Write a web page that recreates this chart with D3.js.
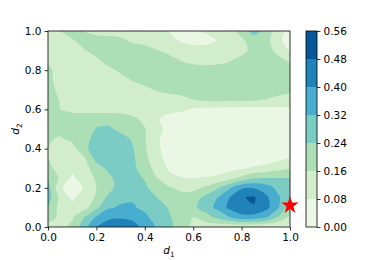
<!DOCTYPE html>
<html>
<head>
<meta charset="utf-8">
<script src="https://cdn.jsdelivr.net/npm/d3@7"></script>
<style>
	body { margin: 0; background: #fff; }
	text { font-family: "DejaVu Sans", sans-serif; }
</style>
</head>
<body>
<div id="visDiv"></div>
<script>
(function () {

	///////////////////////
	// DATA
	//
	// grid positions
	var d1Grid = [0, 0.05, 0.1, 0.15, 0.2, 0.25, 0.3, 0.35, 0.4, 0.45, 0.5, 0.55, 0.6, 0.65, 0.7, 0.75, 0.8, 0.85, 0.9, 0.95, 1.0];
	// rows listed from top (d2 = 1) to bottom (d2 = 0)
	var d2Grid = [1.0, 0.95, 0.9, 0.85, 0.8, 0.75, 0.7, 0.65, 0.6, 0.55, 0.5, 0.45, 0.4, 0.35, 0.3, 0.25, 0.2, 0.15, 0.1, 0.05, 0];

	// field values, one row per d2Grid entry
	var zRows = [
		[0.13, 0.16, 0.2, 0.16, 0.13, 0.12, 0.11, 0.11, 0.10, 0.10, 0.08, 0.072, 0.075, 0.085, 0.10, 0.12, 0.19, 0.27, 0.21, 0.10, 0.06],
		[0.12, 0.13, 0.15, 0.19, 0.2, 0.2, 0.19, 0.14, 0.12, 0.11, 0.10, 0.075, 0.065, 0.066, 0.082, 0.12, 0.145, 0.2, 0.2, 0.09, 0.06],
		[0.12, 0.12, 0.13, 0.155, 0.19, 0.21, 0.22, 0.22, 0.21, 0.165, 0.13, 0.11, 0.10, 0.10, 0.11, 0.12, 0.14, 0.18, 0.19, 0.14, 0.08],
		[0.15, 0.13, 0.12, 0.13, 0.145, 0.19, 0.22, 0.23, 0.23, 0.22, 0.2, 0.155, 0.14, 0.14, 0.145, 0.155, 0.18, 0.2, 0.2, 0.18, 0.15],
		[0.17, 0.14, 0.12, 0.12, 0.125, 0.14, 0.175, 0.21, 0.22, 0.225, 0.22, 0.21, 0.19, 0.18, 0.18, 0.185, 0.2, 0.21, 0.21, 0.2, 0.19],
		[0.18, 0.13, 0.12, 0.115, 0.115, 0.12, 0.13, 0.165, 0.2, 0.21, 0.215, 0.215, 0.215, 0.21, 0.21, 0.21, 0.21, 0.215, 0.22, 0.22, 0.22],
		[0.19, 0.14, 0.115, 0.11, 0.11, 0.11, 0.115, 0.12, 0.135, 0.17, 0.19, 0.2, 0.2, 0.2, 0.2, 0.2, 0.2, 0.2, 0.195, 0.19, 0.18],
		[0.2, 0.155, 0.12, 0.11, 0.10, 0.10, 0.10, 0.10, 0.10, 0.105, 0.115, 0.13, 0.16, 0.175, 0.18, 0.18, 0.18, 0.175, 0.16, 0.14, 0.12],
		[0.19, 0.16, 0.14, 0.135, 0.13, 0.13, 0.13, 0.12, 0.11, 0.10, 0.095, 0.09, 0.07, 0.06, 0.055, 0.05, 0.05, 0.05, 0.055, 0.06, 0.06],
		[0.2, 0.2, 0.2, 0.205, 0.21, 0.21, 0.2, 0.18, 0.14, 0.085, 0.06, 0.05, 0.045, 0.04, 0.04, 0.04, 0.04, 0.045, 0.05, 0.05, 0.05],
		[0.19, 0.19, 0.19, 0.2, 0.245, 0.255, 0.22, 0.2, 0.165, 0.10, 0.06, 0.045, 0.04, 0.035, 0.035, 0.035, 0.035, 0.04, 0.04, 0.045, 0.045],
		[0.17, 0.15, 0.18, 0.21, 0.27, 0.29, 0.27, 0.23, 0.165, 0.09, 0.05, 0.04, 0.035, 0.03, 0.03, 0.03, 0.03, 0.035, 0.035, 0.04, 0.04],
		[0.16, 0.12, 0.13, 0.22, 0.28, 0.3, 0.29, 0.245, 0.17, 0.095, 0.045, 0.035, 0.03, 0.03, 0.025, 0.025, 0.025, 0.03, 0.03, 0.035, 0.035],
		[0.155, 0.12, 0.11, 0.15, 0.27, 0.3, 0.295, 0.255, 0.18, 0.11, 0.05, 0.035, 0.03, 0.025, 0.025, 0.025, 0.03, 0.03, 0.035, 0.06, 0.075],
		[0.18, 0.13, 0.10, 0.13, 0.2, 0.26, 0.29, 0.26, 0.2, 0.13, 0.07, 0.04, 0.035, 0.035, 0.04, 0.05, 0.07, 0.09, 0.11, 0.13, 0.15],
		[0.23, 0.15, 0.065, 0.12, 0.17, 0.22, 0.28, 0.28, 0.23, 0.16, 0.10, 0.085, 0.08, 0.085, 0.10, 0.13, 0.18, 0.23, 0.24, 0.24, 0.24],
		[0.27, 0.09, 0.05, 0.085, 0.16, 0.21, 0.28, 0.3, 0.26, 0.19, 0.17, 0.14, 0.14, 0.17, 0.23, 0.31, 0.39, 0.395, 0.36, 0.3, 0.27],
		[0.28, 0.14, 0.065, 0.12, 0.17, 0.26, 0.3, 0.31, 0.3, 0.24, 0.2, 0.19, 0.2, 0.26, 0.32, 0.4, 0.475, 0.49, 0.42, 0.33, 0.27],
		[0.24, 0.13, 0.10, 0.13, 0.22, 0.31, 0.33, 0.33, 0.3, 0.27, 0.235, 0.21, 0.22, 0.28, 0.34, 0.42, 0.47, 0.475, 0.43, 0.33, 0.2],
		[0.2, 0.14, 0.15, 0.24, 0.33, 0.38, 0.39, 0.38, 0.34, 0.28, 0.25, 0.2, 0.16, 0.2, 0.26, 0.32, 0.37, 0.37, 0.33, 0.24, 0.14],
		[0.12, 0.13, 0.18, 0.28, 0.4, 0.45, 0.46, 0.43, 0.37, 0.31, 0.26, 0.2, 0.14, 0.12, 0.11, 0.10, 0.10, 0.09, 0.08, 0.07, 0.06]
	];

	var levels = [0, 0.08, 0.16, 0.24, 0.32, 0.40, 0.48, 0.56];
	var xTicks = [0, 0.2, 0.4, 0.6, 0.8, 1.0];
	var yTicks = [0, 0.2, 0.4, 0.6, 0.8, 1.0];
	var star = [1.0, 0.11];

	// GnBu anchors
	var gnbu = ["#f7fcf0", "#e0f3db", "#ccebc5", "#a8ddb5", "#7bccc4", "#4eb3d3", "#2b8cbe", "#0868ac", "#084081"];

	///////////////////////
	// DEFS
	//
	var W = 390, H = 260,
		plot = {left: 48, right: 290, top: 31, bottom: 227},
		cbar = {left: 306, right: 317},
		fs = 10.5;

	var svg = d3.select('#visDiv')
		.append('svg')
			.attr('width', W)
			.attr('height', H);

	var x = d3.scaleLinear().domain([0, 1]).range([plot.left, plot.right]);
	var y = d3.scaleLinear().domain([0, 1]).range([plot.bottom, plot.top]);

	var cmap = d3.scaleLinear()
		.domain(gnbu.map(function (c, i) { return i / (gnbu.length - 1); }))
		.range(gnbu);
	// band colour: colormap at band midpoint, normalised over the level range
	var bandColor = function (i) {
		var mid = (levels[i] + levels[i + 1]) / 2;
		return cmap((mid - levels[0]) / (levels[levels.length - 1] - levels[0]));
	};

	///////////////////////
	// CONTOURS
	//
	var nx = d1Grid.length, ny = d2Grid.length;
	var flat = [];
	zRows.forEach(function (r) { r.forEach(function (v) { flat.push(v); }); });

	var contours = d3.contours()
		.size([nx, ny])
		.thresholds(levels.slice(0, -1))(flat);

	// contour grid coords -> data coords
	var gx = d3.scaleLinear().domain([0.5, nx - 0.5]).range([d1Grid[0], d1Grid[nx - 1]]);
	var gy = d3.scaleLinear().domain([0.5, ny - 0.5]).range([d2Grid[0], d2Grid[ny - 1]]);

	// rings drawn as smooth closed curves
	var ringLine = d3.line().curve(d3.curveCatmullRomClosed.alpha(0.5));
	var contourPath = function (mp) {
		return mp.coordinates.map(function (poly) {
			return poly.map(function (ring) {
				return ringLine(ring.slice(0, -1).map(function (p) {
					return [x(gx(p[0])), y(gy(p[1]))];
				}));
			}).join('');
		}).join('');
	};

	svg.append('clipPath')
		.attr('id', 'clip')
	  .append('rect')
		.attr('x', plot.left)
		.attr('y', plot.top)
		.attr('width', plot.right - plot.left)
		.attr('height', plot.bottom - plot.top);

	svg.append('g')
		.attr('clip-path', 'url(#clip)')
	  .selectAll('path')
		.data(contours)
	  .enter().append('path')
		.attr('d', contourPath)
		.attr('fill-rule', 'evenodd')
		.attr('fill', function (d, i) { return bandColor(i); });

	///////////////////////
	// AXES
	//
	var styleAxis = function (g) {
		g.select('.domain').remove();
		g.selectAll('.tick line').attr('stroke', '#000').attr('stroke-width', 0.8);
		g.selectAll('.tick text')
			.attr('fill', '#000')
			.style('font-family', '"DejaVu Sans", sans-serif')
			.style('font-size', fs + 'px');
	};

	svg.append('g')
		.attr('transform', 'translate(0,' + plot.bottom + ')')
		.call(d3.axisBottom(x).tickValues(xTicks).tickFormat(d3.format('.1f')).tickSize(3.5).tickPadding(3))
		.call(styleAxis);

	svg.append('g')
		.attr('transform', 'translate(' + plot.left + ',0)')
		.call(d3.axisLeft(y).tickValues(yTicks).tickFormat(d3.format('.1f')).tickSize(3.5).tickPadding(3))
		.call(styleAxis);

	svg.append('rect')
		.attr('x', plot.left)
		.attr('y', plot.top)
		.attr('width', plot.right - plot.left)
		.attr('height', plot.bottom - plot.top)
		.attr('fill', 'none')
		.attr('stroke', '#000')
		.attr('stroke-width', 0.8);

	// axis labels
	var xl = svg.append('text')
		.attr('x', (plot.left + plot.right) / 2)
		.attr('y', 254)
		.attr('text-anchor', 'middle')
		.style('font-size', fs + 'px');
	xl.append('tspan').style('font-style', 'italic').text('d');
	xl.append('tspan').attr('dy', 2.5).style('font-size', (fs * 0.7) + 'px').text('1');

	var yl = svg.append('text')
		.attr('transform', 'translate(19,' + (plot.top + plot.bottom) / 2 + ') rotate(-90)')
		.attr('text-anchor', 'middle')
		.style('font-size', fs + 'px');
	yl.append('tspan').style('font-style', 'italic').text('d');
	yl.append('tspan').attr('dy', 2.5).style('font-size', (fs * 0.7) + 'px').text('2');

	///////////////////////
	// STAR
	//
	svg.append('path')
		.attr('d', d3.symbol(d3.symbolStar, 95)())
		.attr('transform', 'translate(' + x(star[0]) + ',' + y(star[1]) + ')')
		.attr('fill', '#ff0000');

	///////////////////////
	// COLORBAR
	//
	var cy = d3.scaleLinear().domain([levels[0], levels[levels.length - 1]]).range([plot.bottom, plot.top]);

	svg.append('g').selectAll('rect')
		.data(levels.slice(0, -1))
	  .enter().append('rect')
		.attr('x', cbar.left)
		.attr('width', cbar.right - cbar.left)
		.attr('y', function (d, i) { return cy(levels[i + 1]); })
		.attr('height', function (d, i) { return cy(levels[i]) - cy(levels[i + 1]); })
		.attr('fill', function (d, i) { return bandColor(i); });

	svg.append('rect')
		.attr('x', cbar.left)
		.attr('y', plot.top)
		.attr('width', cbar.right - cbar.left)
		.attr('height', plot.bottom - plot.top)
		.attr('fill', 'none')
		.attr('stroke', '#000')
		.attr('stroke-width', 0.8);

	svg.append('g')
		.attr('transform', 'translate(' + cbar.right + ',0)')
		.call(d3.axisRight(cy).tickValues(levels).tickFormat(d3.format('.2f')).tickSize(3.5).tickPadding(3))
		.call(styleAxis);

}());
</script>
</body>
</html>
